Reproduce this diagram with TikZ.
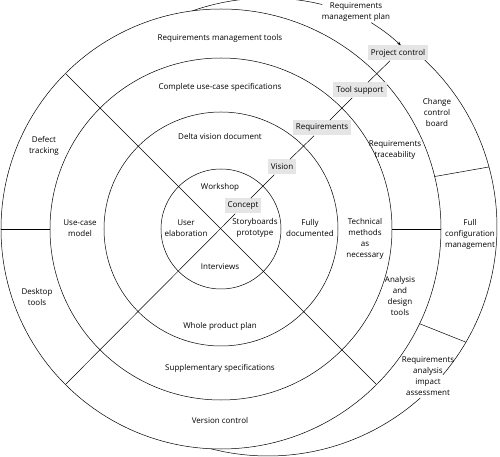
\documentclass[tikz,border=0pt]{standalone}
\usepackage{fontspec}
\setmainfont{Open Sans}
\usetikzlibrary{arrows.meta}

\begin{document}
\begin{tikzpicture}[x=1pt, y=1pt, line width=0.5pt,
  font=\fontsize{8}{11}\selectfont,
  lbl/.style={align=center, inner sep=1pt},
  box/.style={fill=black!10, inner sep=3pt, minimum height=15pt}]
  \useasboundingbox (-221,-228) rectangle (279,229);
  % rings
  \foreach \r in {60,117,171,220}
    \draw (0,0) circle[radius=\r];
  \draw (135:220) -- (-45:220);
  \draw (180:171) -- (180:220);
  \draw (0:171) -- (0:220);
  \coordinate (sw) at (225:220);
  % outer spiral, centre shifted right
  \draw ([shift={(47,2)}]109.3:229) arc[start angle=109.3, end angle=76.3, radius=229];
  \draw ([shift={(47,2)}]47:229) arc[start angle=47, end angle=-40.2, radius=229];
  \draw ([shift={(47,2)}]-48.3:229) arc[start angle=-48.3, end angle=-104.4, radius=229];
  \draw (13.8:220) -- ([shift={(47,2)}]15.2:229);
  \draw (-25.5:220) -- ([shift={(47,2)}]-30.2:229);

  \node[lbl] (rmtools) at (-1,191) {Requirements management tools};
  \node[lbl] (complete) at (-1,142) {Complete use-case specifications};
  \node[lbl] (delta) at (-1,92) {Delta vision document};
  \node[lbl] (workshop) at (-1,42) {Workshop};
  \node[lbl] (user) at (-35,1) {User\\elaboration};
  \node[lbl] (story) at (34,1) {Storyboards\\prototype};
  \node[lbl] (interviews) at (-1,-38) {Interviews};
  \node[lbl] (fully) at (89,1) {Fully\\documented};
  \node[lbl] (technical) at (144,-10) {Technical\\methods\\as\\necessary};
  \node[lbl] (trace) at (174,79) {Requirements\\traceability};
  \node[lbl] (change) at (216,116) {Change\\control\\board};
  \node[lbl] (fullcfg) at (249,-5) {Full\\configuration\\management};
  \node[lbl] (analysis) at (179,-67) {Analysis\\and\\design\\tools};
  \node[lbl] (impact) at (207,-147) {Requirements\\analysis\\impact\\assessment};
  \node[lbl] (whole) at (-1,-97) {Whole product plan};
  \node[lbl] (supp) at (-1,-139) {Supplementary specifications};
  \node[lbl] (version) at (-1,-191) {Version control};
  \node[lbl] (usecase) at (-141,1) {Use-case\\model};
  \node[lbl] (defect) at (-177,83) {Defect\\tracking};
  \node[lbl] (desktop) at (-184,-68) {Desktop\\tools};
  \node[lbl] (plan) at (135,217) {Requirements\\management plan};

  \node[box] (concept) at (22,23) {Concept};
  \node[box] (vision) at (61,62) {Vision};
  \node[box] (reqbox) at (101,101) {Requirements};
  \node[box] (tool) at (139,139) {Tool support};
  \node[box] (project) at (177,176) {Project control};

  \draw (sw) -- (concept);
  \draw (concept) -- (vision);
  \draw (vision) -- (reqbox);
  \draw (reqbox) -- (tool);
  \draw (tool) -- (project);
  \draw[-{Stealth[length=4pt,width=3pt]}] (plan.-35) to[bend left=5] (project.70);
\end{tikzpicture}
\end{document}
